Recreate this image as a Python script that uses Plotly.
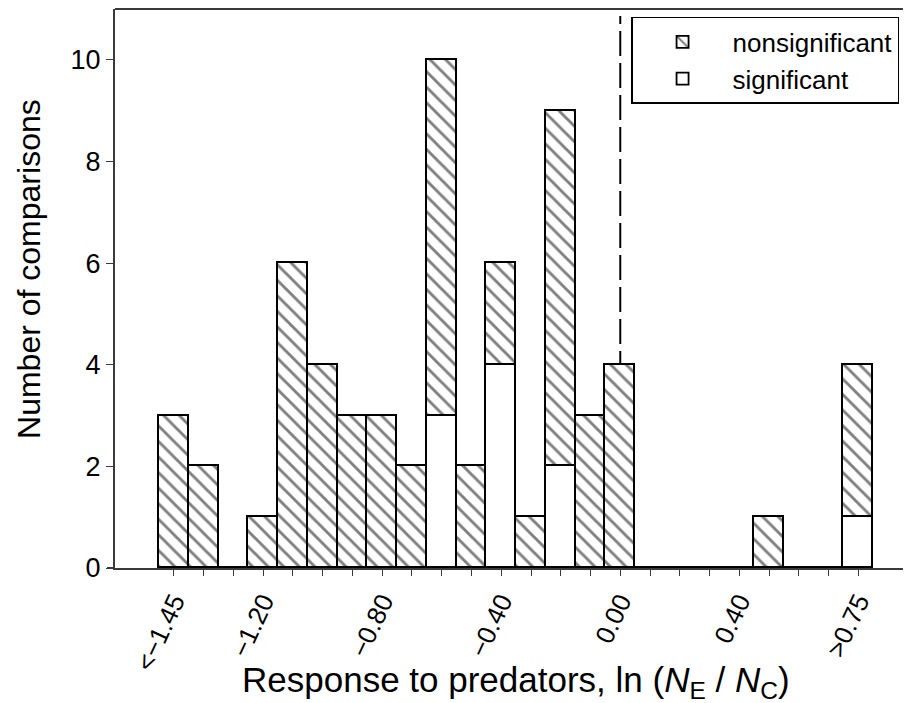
import plotly.graph_objects as go

# Bin centres of ln(NE/NC) (width 0.1); first and last bins are open-ended
bin_centers = [-1.5, -1.4, -1.3, -1.2, -1.1, -1.0, -0.9, -0.8, -0.7, -0.6, -0.5, -0.4,
               -0.3, -0.2, -0.1, 0.0, 0.1, 0.2, 0.3, 0.4, 0.5, 0.6, 0.7, 0.8]
significant = [0, 0, 0, 0, 0, 0, 0, 0, 0, 3, 0, 4, 0, 2, 0, 0, 0, 0, 0, 0, 0, 0, 0, 1]
nonsignificant = [3, 2, 0, 1, 6, 4, 3, 3, 2, 7, 2, 2, 1, 7, 3, 4, 0, 0, 0, 0, 1, 0, 0, 3]
label_positions = [-1.5, -1.2, -0.8, -0.4, 0.0, 0.4, 0.8]
label_texts = ["<\u22121.45", "\u22121.20", "\u22120.80", "\u22120.40", "0.00", "0.40", ">0.75"]
y_ticks = [0, 2, 4, 6, 8, 10]

FONT = "Liberation Sans, Arial, Helvetica, sans-serif"
AX = "#3a3a3a"

fig = go.Figure()
fig.add_trace(go.Bar(
    x=bin_centers, y=significant, name="significant", width=0.1,
    marker=dict(color="white", line=dict(color="black", width=1.8)),
))
fig.add_trace(go.Bar(
    x=bin_centers, y=nonsignificant, name="nonsignificant", width=0.1,
    marker=dict(color="white", line=dict(color="black", width=1.8),
                pattern=dict(shape="\\", size=11, solidity=0.26,
                             fgcolor="black", bgcolor="white", fillmode="overlay")),
))

# The page places the figure 8 px from the top-left of the window, so the
# figure is 903 x 695 and every position is measured from that origin.
fig.update_layout(
    width=903, height=695,
    margin=dict(l=107, r=0, t=1, b=135),
    paper_bgcolor="white", plot_bgcolor="white",
    barmode="stack", bargap=0,
    font=dict(family=FONT, color="black"),
    showlegend=True,
    legend=dict(
        x=0.985, y=0.9857, xanchor="right", yanchor="top",
        bordercolor="black", borderwidth=1.5, bgcolor="white",
        font=dict(family=FONT, size=26, color="black"),
        traceorder="reversed", itemwidth=90,
    ),
    xaxis=dict(
        range=[-1.698, 0.977], tickmode="array", tickvals=label_positions, ticktext=label_texts,
        tickangle=-65, ticks="outside", ticklen=6, tickwidth=1.3, tickcolor=AX,
        minor=dict(tickmode="array", tickvals=bin_centers, ticks="outside",
                   ticklen=6, tickwidth=1.3, tickcolor=AX, showgrid=False),
        showline=True, linecolor=AX, linewidth=2, showgrid=False, zeroline=False,
        tickfont=dict(family=FONT, size=26, color="black"),
    ),
    yaxis=dict(
        range=[0, 11.0], tickmode="array", tickvals=y_ticks,
        ticks="outside", ticklen=7, tickwidth=1.3, tickcolor=AX,
        showline=True, linecolor=AX, linewidth=2, showgrid=False, zeroline=False,
        tickfont=dict(family=FONT, size=27, color="black"),
    ),
    shapes=[
        dict(type="line", xref="x", yref="y", x0=0.0, x1=0.0, y0=0, y1=10.86,
             line=dict(color="black", width=2, dash="25px,7px"), layer="below"),
        dict(type="line", xref="paper", yref="paper", x0=0, x1=1, y0=1, y1=1,
             line=dict(color=AX, width=2)),
        dict(type="line", xref="paper", yref="paper", x0=-0.01, x1=0, y0=0, y1=0,
             line=dict(color=AX, width=2)),
    ],
    annotations=[
        dict(text="Number of comparisons", xref="paper", yref="paper",
             x=-0.108, y=0.535, xanchor="center", yanchor="middle", textangle=-90,
             showarrow=False, font=dict(family=FONT, size=32, color="black")),
        dict(text="Response to predators, ln (<i>N</i><sub>E</sub> / <i>N</i><sub>C</sub>)",
             xref="paper", yref="paper", x=0.504, y=-0.161, xanchor="center", yanchor="top",
             showarrow=False, font=dict(family=FONT, size=35, color="black")),
    ],
)

fig.write_html("out.html")
